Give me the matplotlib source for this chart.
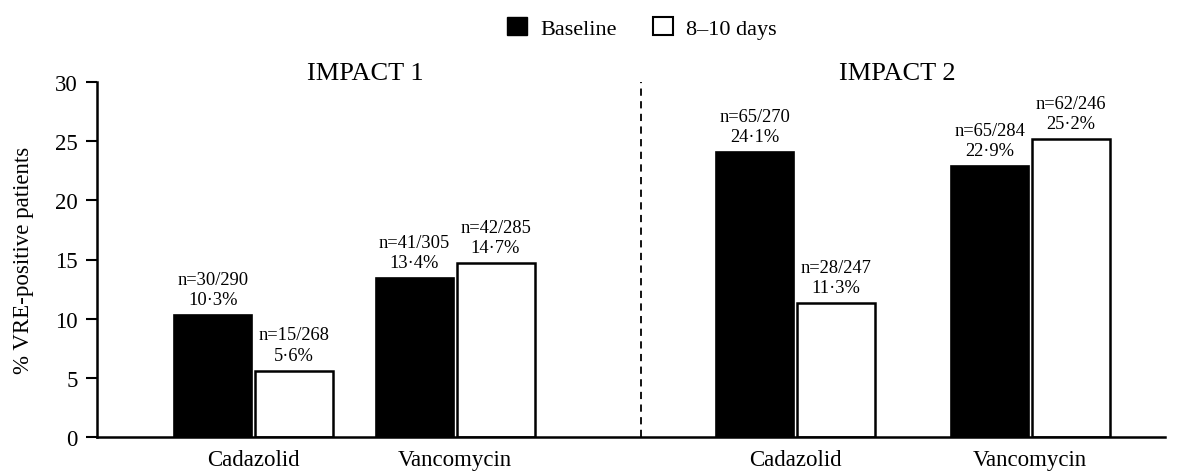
import matplotlib
matplotlib.use("Agg")
import matplotlib.pyplot as plt
from matplotlib.patches import Patch
import numpy as np

plt.rcParams['font.family'] = ['Liberation Serif', 'DejaVu Serif']

categories = ["Cadazolid", "Vancomycin", "Cadazolid", "Vancomycin"]
studies = ["IMPACT 1", "IMPACT 2"]
baseline = [10.3, 13.4, 24.1, 22.9]
day8_10 = [5.6, 14.7, 11.3, 25.2]
baseline_n = ["n=30/290", "n=41/305", "n=65/270", "n=65/284"]
day8_10_n = ["n=15/268", "n=42/285", "n=28/247", "n=62/246"]
series_names = ["Baseline", "8\u201310 days"]
yticks = [0, 5, 10, 15, 20, 25, 30]

fig = plt.figure(figsize=(11.92, 4.77), dpi=100)
ax = fig.add_axes([97/1192, 1-437.7/477, (1165-97)/1192, (437.7-83.3)/477])

centers = np.array([253.5, 455.0, 795.0, 1030.0])
w = 78
off = 40.5

def fmt(v):
    return f"{v:.1f}".replace(".", "\u00b7") + "%"

b1 = ax.bar(centers - off, baseline, w, color="black", edgecolor="black", linewidth=1.2)
b2 = ax.bar(centers + off, day8_10, w, color="white", edgecolor="black", linewidth=1.8)

for bars, vals, ns in [(b1, baseline, baseline_n), (b2, day8_10, day8_10_n)]:
    for rect, v, n in zip(bars, vals, ns):
        ax.annotate(f"{n}\n{fmt(v)}", (rect.get_x() + rect.get_width()/2, v),
                    xytext=(0, 5), textcoords="offset points", ha="center", va="bottom",
                    fontsize=13.3, linespacing=1.25)

ax.set_xlim(97, 1165)
ax.set_ylim(0, 30)
ax.set_yticks(yticks)
ax.set_xticks(centers)
ax.set_xticklabels(categories, fontsize=16.5)
ax.tick_params(axis='x', length=0, pad=9)
ax.tick_params(axis='y', direction='out', length=8, width=1.5, labelsize=16.5, pad=6)
for s in ['top', 'right']:
    ax.spines[s].set_visible(False)
for s in ['left', 'bottom']:
    ax.spines[s].set_linewidth(1.8)
ax.set_ylabel("% VRE-positive patients", fontsize=16.5, labelpad=15)

ax.plot([641, 641], [0, 30], linestyle=(0, (4, 3)), color="black", linewidth=1.3, clip_on=False)

ax.text(365, 30.75, studies[0], ha="center", va="center", fontsize=19)
ax.text(897, 30.75, studies[1], ha="center", va="center", fontsize=19)

handles = [Patch(facecolor="black", edgecolor="black", label=series_names[0]),
           Patch(facecolor="white", edgecolor="black", linewidth=1.5, label=series_names[1])]
fig.legend(handles=handles, loc="upper center", bbox_to_anchor=(0.5386, 1.005), ncol=2,
           frameon=False, fontsize=16, handlelength=0.9, handleheight=0.9,
           columnspacing=1.6, handletextpad=0.6)

fig.savefig("out.png", dpi=100)
